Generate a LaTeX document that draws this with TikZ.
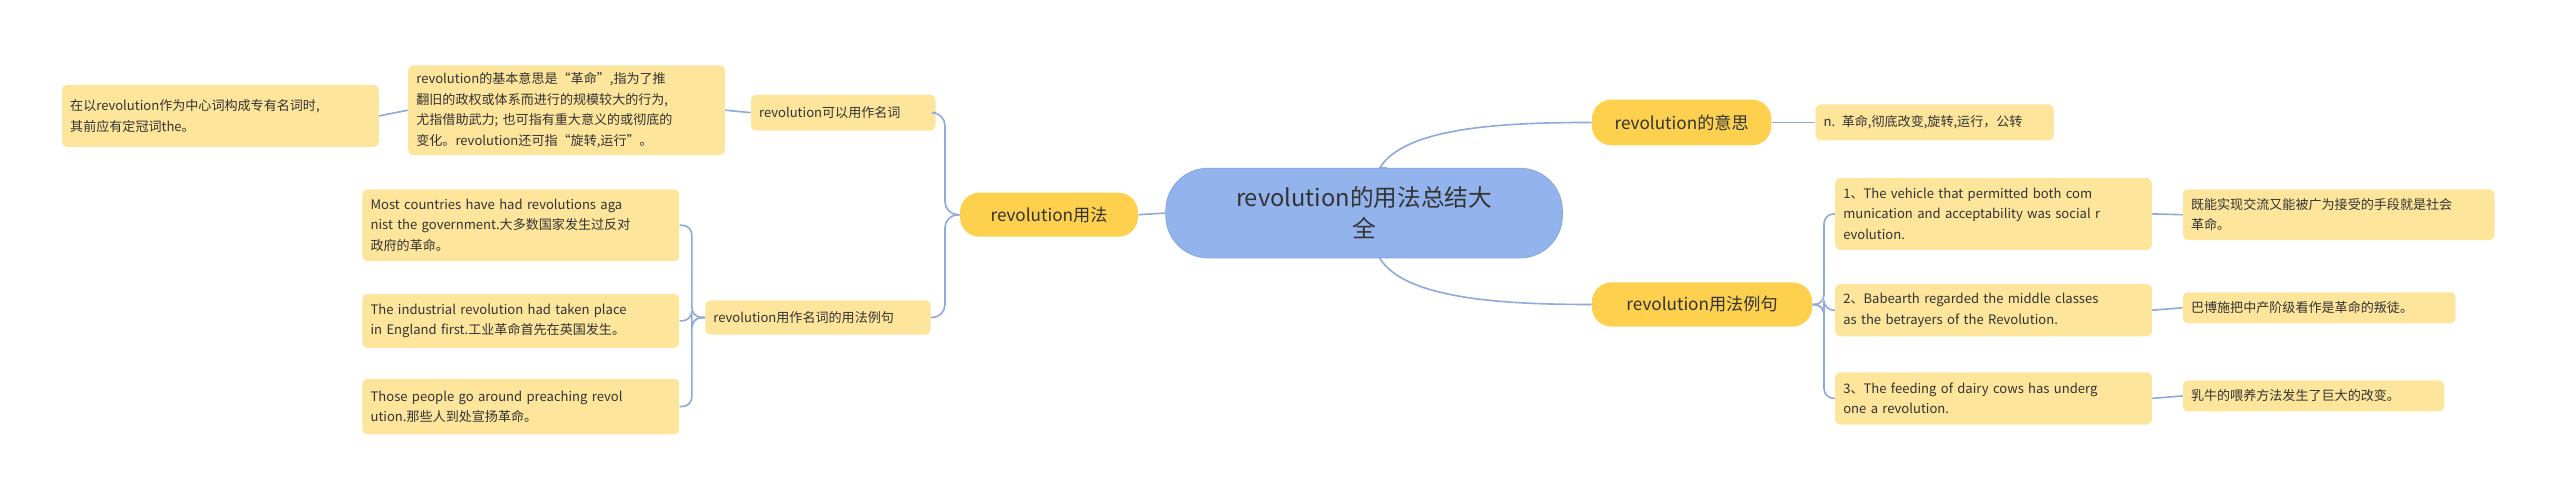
\documentclass[tikz,border=0pt]{standalone}
\usepackage{fontspec}
\setmainfont{Noto Sans CJK SC}
\definecolor{cblue}{HTML}{92B3EB}
\definecolor{cblueb}{HTML}{7FA2DE}
\definecolor{bry}{HTML}{FDD14E}
\definecolor{lfy}{HTML}{FEE59C}
\definecolor{lnk}{HTML}{8EABDC}
\definecolor{txt}{HTML}{333333}
\begin{document}
\begin{tikzpicture}[x=1pt,y=1pt,
  every node/.style={text=txt,inner sep=0pt},
  cen/.style={draw=cblueb,fill=cblue,rounded corners=26pt,font=\fontsize{14.5}{19}\selectfont,align=center},
  br/.style={fill=bry,rounded corners=12pt,font=\fontsize{10.5}{13}\selectfont,align=center},
  leaf/.style={fill=lfy,rounded corners=3pt,font=\fontsize{8}{12.5}\selectfont,align=left,inner xsep=5pt},
  lk/.style={draw=lnk,line width=1pt}]
\useasboundingbox (0,0) rectangle (1568,-306);
% centre
\node[cen,minimum width=243,minimum height=55] (c) at (835.5,-130.5) {revolution的用法总结大\\全};
% right side
\node[br,minimum width=110,minimum height=28] (mean) at (1030,-75) {revolution的意思};
\node[leaf,minimum width=146,minimum height=22,text width=136] (meant) at (1185,-75) {n. 革命,彻底改变,旋转,运行，公转};
\node[br,minimum width=135,minimum height=27] (rex) at (1042.5,-186.5) {revolution用法例句};
\node[leaf,minimum width=194,minimum height=44,text width=184] (r1) at (1221,-131) {1、The vehicle that permitted both com\\munication and acceptability was social r\\evolution.};
\node[leaf,minimum width=191,minimum height=31,text width=181] (t1) at (1432.5,-131.5) {既能实现交流又能被广为接受的手段就是社会\\革命。};
\node[leaf,minimum width=194,minimum height=32,text width=184] (r2) at (1221,-190) {2、Babearth regarded the middle classes\\as the betrayers of the Revolution.};
\node[leaf,minimum width=167,minimum height=19,text width=157] (t2) at (1420.5,-188.5) {巴博施把中产阶级看作是革命的叛徒。};
\node[leaf,minimum width=194,minimum height=32,text width=184] (r3) at (1221,-244) {3、The feeding of dairy cows has underg\\one a revolution.};
\node[leaf,minimum width=160,minimum height=19,text width=150] (t3) at (1417,-242.5) {乳牛的喂养方法发生了巨大的改变。};
% left side
\node[br,minimum width=109,minimum height=27] (use) at (642.5,-131.5) {revolution用法};
\node[leaf,minimum width=113,minimum height=22,text width=103] (noun) at (516.5,-69) {revolution可以用作名词};
\node[leaf,minimum width=194,minimum height=55,text width=184] (def) at (347,-67.5) {revolution的基本意思是“革命”,指为了推\\翻旧的政权或体系而进行的规模较大的行为,\\尤指借助武力; 也可指有重大意义的或彻底的\\变化。revolution还可指“旋转,运行”。};
\node[leaf,minimum width=194,minimum height=38,text width=184] (pn) at (135,-71) {在以revolution作为中心词构成专有名词时,\\其前应有定冠词the。};
\node[leaf,minimum width=138,minimum height=21,text width=128] (lex) at (501,-194.5) {revolution用作名词的用法例句};
\node[leaf,minimum width=194,minimum height=44,text width=184] (l1) at (319,-138) {Most countries have had revolutions aga\\nist the government.大多数国家发生过反对\\政府的革命。};
\node[leaf,minimum width=194,minimum height=33,text width=184] (l2) at (319,-196.5) {The industrial revolution had taken place\\in England first.工业革命首先在英国发生。};
\node[leaf,minimum width=194,minimum height=34,text width=184] (l3) at (319,-249) {Those people go around preaching revol\\ution.那些人到处宣扬革命。};
% connectors
\draw[lk] ([xshift=10pt]c.north) .. controls +(10,-0) and +(-1,0) .. ([xshift=10pt]c.north);
\draw[lk] (845,-103) coordinate (ct) .. controls (860,-78) and (920,-75) .. (mean.west);
\draw[lk] (845,-158) coordinate (cb) .. controls (860,-183) and (920,-186.5) .. (rex.west);
\draw[lk] (c.west) -- (use.east);
\draw[lk] (mean.east) -- (meant.west);
\draw[lk,rounded corners=6pt] (rex.east) -- ++(7,0) |- (r1.west);
\draw[lk,rounded corners=6pt] (rex.east) -- ++(7,0) |- (r2.west);
\draw[lk,rounded corners=6pt] (rex.east) -- ++(7,0) |- (r3.west);
\draw[lk] (r1.east) -- (t1.west);
\draw[lk] (r2.east) -- (t2.west);
\draw[lk] (r3.east) -- (t3.west);
\draw[lk,rounded corners=8pt] (use.west) -- ++(-9,0) |- (noun.east);
\draw[lk,rounded corners=8pt] (use.west) -- ++(-9,0) |- (lex.east);
\draw[lk] (noun.west) -- (def.east);
\draw[lk] (def.west) -- (pn.east);
\draw[lk,rounded corners=6pt] (lex.west) -- ++(-8,0) |- (l1.east);
\draw[lk,rounded corners=6pt] (lex.west) -- ++(-8,0) |- (l2.east);
\draw[lk,rounded corners=6pt] (lex.west) -- ++(-8,0) |- (l3.east);
\end{tikzpicture}
\end{document}
